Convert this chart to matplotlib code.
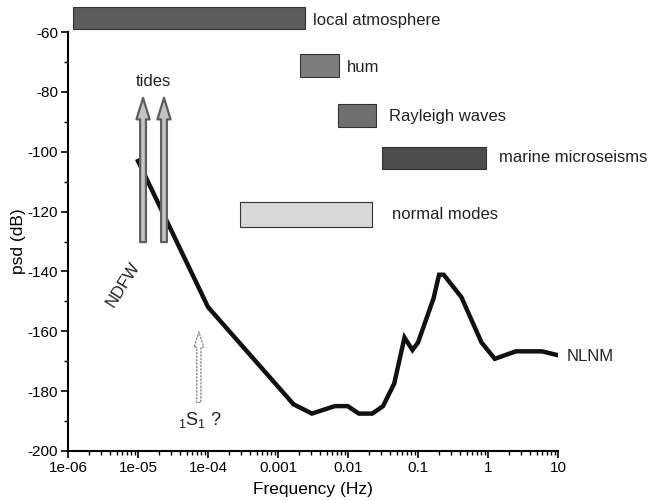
import numpy as np
import matplotlib
matplotlib.use("Agg")
import matplotlib.pyplot as plt
from matplotlib.ticker import LogLocator, FixedLocator, NullFormatter

plt.rcParams['font.family'] = ['Liberation Sans', 'DejaVu Sans']
plt.rcParams['axes.unicode_minus'] = False
plt.rcParams['mathtext.fontset'] = 'custom'
plt.rcParams['mathtext.rm'] = 'Liberation Sans'
plt.rcParams['mathtext.it'] = 'Liberation Sans'

# NLNM curve (frequency Hz, psd dB)
nlnm_freq = [1e-5, 1e-4, 0.001667, 0.00305, 0.00649, 0.0099, 0.01429, 0.02222,
             0.03165, 0.04566, 0.0641, 0.0833, 0.1, 0.1667, 0.2, 0.2326,
             0.4167, 0.806, 1.25, 2.5, 5.882, 10.0]
nlnm_psd = [-103.1, -151.9, -184.4, -187.5, -185.0, -185.0, -187.5, -187.5,
            -185.0, -177.5, -162.1, -166.25, -163.75, -149.0, -141.1, -141.1,
            -148.6, -163.7, -169.2, -166.7, -166.7, -168.0]

# Source bands
band_labels = ["local atmosphere", "hum", "Rayleigh waves", "marine microseisms", "normal modes"]
band_f_lo = [1.18e-6, 2.06e-3, 7.2e-3, 0.0306, 2.87e-4]
band_f_hi = [2.43e-3, 7.4e-3, 0.0251, 0.936, 0.022]
band_db_lo = [-59.0, -75.0, -91.7, -105.8, -125.2]
band_db_hi = [-51.6, -67.3, -84.1, -98.4, -116.8]
band_colors = ["#5c5c5c", "#7c7c7c", "#707070", "#4c4c4c", "#d9d9d9"]
band_label_f = [3.16e-3, 9.7e-3, 0.0386, 1.44, 0.0425]
band_label_db = [-56.0, -72.0, -88.4, -101.8, -121.1]

# Tides arrows
tide_freq = [1.18e-5, 2.35e-5]
tide_db_from = -130.2
tide_db_to = -82.0

# 1S1 arrow
s1_freq = 7.4e-5
s1_db_from = -183.8
s1_db_to = -160.2

xticks = [1e-6, 1e-5, 1e-4, 1e-3, 1e-2, 1e-1, 1, 10]
xticklabels = ["1e-06", "1e-05", "1e-04", "0.001", "0.01", "0.1", "1", "10"]
yticks = [-200, -180, -160, -140, -120, -100, -80, -60]

fig = plt.figure(figsize=(6.49, 5.00), dpi=100)
ax = fig.add_axes([0.1048, 0.098, 0.755, 0.838])
ax.set_xscale('log')
ax.set_xlim(1e-6, 10)
ax.set_ylim(-200, -60)

# bands
for lab, flo, fhi, dlo, dhi, c, lf, ld in zip(band_labels, band_f_lo, band_f_hi, band_db_lo,
                                              band_db_hi, band_colors, band_label_f, band_label_db):
    ax.barh((dlo + dhi) / 2, fhi - flo, left=flo, height=dhi - dlo, color=c,
            edgecolor="#333333", linewidth=0.8, clip_on=False, zorder=2)
    ax.text(lf, ld, lab, fontsize=12, color="#222222", ha='left', va='center')

# NLNM
ax.plot(nlnm_freq, nlnm_psd, color="#111111", linewidth=3.2, solid_joinstyle='miter', zorder=3)
ax.text(13.4, -168.3, "NLNM", fontsize=12, color="#222222", ha='left', va='center', clip_on=False)

# tides arrows
for f in tide_freq:
    ax.annotate('', xy=(f, tide_db_to), xytext=(f, tide_db_from),
                arrowprops=dict(arrowstyle='simple,head_length=1.55,head_width=0.95,tail_width=0.42',
                                fc='#c4c4c4', ec='#5e5e5e', lw=1.6, shrinkA=0, shrinkB=0,
                                mutation_scale=10), zorder=4)
ax.text(np.sqrt(tide_freq[0] * tide_freq[1]), -76.4, "tides", fontsize=12, color="#222222",
        ha='center', va='center')

# NDFW
ax.text(6.1e-6, -144.5, "NDFW", fontsize=12, color="#222222", ha='center', va='center', rotation=58)

# 1S1 arrow (dotted)
ax.annotate('', xy=(s1_freq, s1_db_to), xytext=(s1_freq, s1_db_from),
            arrowprops=dict(arrowstyle='simple,head_length=1.1,head_width=0.7,tail_width=0.3',
                            fc='white', ec='#8a8a8a', lw=1.0, ls=(0, (1, 1.5)),
                            shrinkA=0, shrinkB=0, mutation_scale=10), zorder=4)
ax.text(7.66e-5, -189.6, r"$_1\mathrm{S}_1$ ?", fontsize=13, color="#222222", ha='center', va='center')

# axes styling
for s in ['top', 'right']:
    ax.spines[s].set_visible(False)
for s in ['left', 'bottom']:
    ax.spines[s].set_linewidth(1.5)
ax.set_xticks(xticks)
ax.set_xticklabels(xticklabels)
ax.xaxis.set_minor_locator(LogLocator(base=10, subs=np.arange(2, 10), numticks=20))
ax.xaxis.set_minor_formatter(NullFormatter())
ax.set_yticks(yticks)
ax.yaxis.set_minor_locator(FixedLocator(np.arange(-190, -60, 20)))
ax.tick_params(which='major', direction='out', length=5, width=1.2, labelsize=11, pad=2)
ax.tick_params(which='minor', direction='out', length=3, width=1.0)
ax.set_xlabel("Frequency (Hz)", fontsize=12.5, labelpad=5)
ax.set_ylabel("psd (dB)", fontsize=12.5, labelpad=1)

fig.savefig("out.png", dpi=100)
